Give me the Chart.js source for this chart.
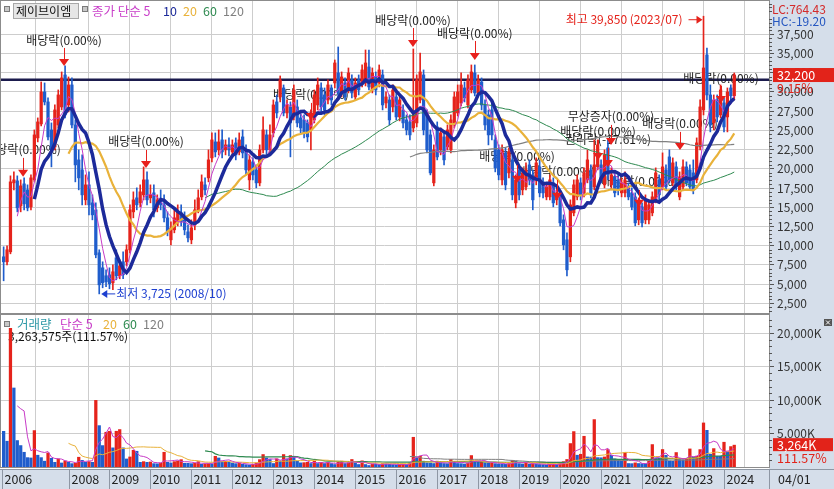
<!DOCTYPE html>
<html>
<head>
<meta charset="utf-8">
<script src="https://cdn.jsdelivr.net/npm/chart.js@4.4.1/dist/chart.umd.min.js"></script>
<style>
html, body { margin: 0; padding: 0; background: #fff; }
#wrap { position: relative; width: 834px; height: 489px; overflow: hidden; }
#priceBox { position: absolute; left: 0; top: 0; width: 834px; height: 314px; }
#volBox { position: absolute; left: 0; top: 314px; width: 834px; height: 175px; }
</style>
</head>
<body>
<div id="wrap">
  <div id="priceBox"><canvas id="priceChart" width="834" height="314"></canvas></div>
  <div id="volBox"><canvas id="volChart" width="834" height="175"></canvas></div>
</div>
<script>
// monthly candles, index 0 = 2006/06 ... 214 = 2024/04
const opens = [
  8550, 7900, 9200, 18170, 18430, 15180, 18040, 17260, 15050, 18560,
  24020, 25840, 30000, 28700, 25060, 22850, 25710, 28050, 32210, 28310,
  30910, 25710, 21160, 19860, 15960, 17910, 15570, 14660, 9070, 7120,
  6080, 6210, 5170, 8420, 6080, 7900, 7900, 9460, 14400, 16220,
  15570, 16610, 18560, 16220, 16870, 14920, 15960, 15310, 13620, 10760,
  12060, 13100, 14270, 13360, 11800, 10760, 12710, 14660, 16350, 17910,
  18820, 21420, 23500, 22460, 23760, 22460, 23110, 22200, 23370, 22200,
  24150, 22200, 18560, 20900, 19860, 18170, 22460, 24410, 22460, 24670,
  28700, 29350, 30520, 27270, 28050, 26750, 28050, 26620, 26360, 25970,
  25060, 26360, 28310, 30520, 29610, 28960, 30520, 31170, 32470, 29870,
  31170, 30260, 31560, 29350, 31560, 31170, 31170, 33250, 30260, 31950,
  31170, 32210, 28570, 28960, 28050, 29350, 26750, 27660, 26360, 26100,
  25320, 25970, 28960, 32210, 27010, 24410, 18170, 25450, 22460, 24150,
  22850, 22460, 25710, 27270, 28570, 30520, 28310, 30260, 32470, 29870,
  31300, 28310, 27010, 27660, 23760, 22460, 18560, 22070, 19470, 21160,
  15570, 19860, 17260, 17650, 20510, 19210, 18560, 20250, 18300, 16350,
  16350, 18170, 15960, 16350, 13360, 10760, 8550, 14270, 16350, 18170,
  16870, 18560, 19860, 17650, 20250, 20510, 17910, 22720, 17910, 18950,
  18560, 16870, 16870, 17650, 16870, 16350, 13360, 15050, 13360, 13360,
  14270, 15960, 18560, 17650, 19860, 21550, 18170, 20250, 16350, 17650,
  20250, 19860, 19470, 18560, 22850, 27660, 34810, 29610, 25970, 28960,
  27010, 28570, 26750, 30520, 29500
];
const highs = [
  9850, 9980, 19080, 19600, 19080, 18560, 18820, 17910, 19210, 25060,
  26620, 31300, 31170, 29220, 25970, 28310, 30260, 32600, 33380, 31950,
  31820, 26360, 22460, 21810, 19210, 19600, 16610, 15570, 9460, 7900,
  6860, 7120, 7510, 9460, 8160, 9200, 10110, 15310, 17000, 17520,
  17910, 20250, 19600, 17910, 17910, 16610, 17260, 16610, 14400, 13100,
  14660, 15310, 15310, 14400, 12710, 13360, 15960, 17260, 19210, 18820,
  22460, 24670, 24670, 25060, 25060, 23760, 24020, 23760, 24020, 24670,
  25060, 23110, 21810, 21420, 20510, 23110, 26750, 25060, 25710, 28960,
  29610, 32080, 30910, 28960, 28700, 30910, 28960, 27400, 27010, 26360,
  27660, 30260, 31820, 31170, 30520, 31560, 30910, 34160, 35850, 32600,
  31820, 33120, 32210, 31820, 32210, 33510, 35460, 35460, 33120, 32600,
  33510, 32860, 30000, 29610, 30910, 30000, 29610, 28310, 27010, 27010,
  35590, 32210, 35070, 32860, 27660, 25060, 23110, 26100, 25320, 24800,
  25710, 27010, 30000, 30910, 32470, 31300, 32210, 33510, 33510, 32210,
  31820, 28960, 27660, 28960, 24410, 23110, 23110, 22720, 22720, 21810,
  19210, 20510, 20120, 20770, 21160, 19860, 21420, 21160, 18820, 18170,
  19210, 18820, 17520, 17000, 14010, 11670, 15960, 18560, 19210, 18820,
  20120, 22460, 20510, 23760, 23760, 21160, 22460, 23760, 20120, 19600,
  19210, 18820, 19600, 18170, 17520, 16870, 16220, 15570, 16610, 15960,
  17000, 20120, 19210, 22070, 20510, 22460, 21420, 20900, 19600, 21160,
  20900, 20510, 21160, 24020, 28960, 39850, 35720, 30910, 29610, 29610,
  30910, 29220, 30520, 30910, 32470
];
const lows = [
  5430, 7510, 8940, 17260, 14400, 14400, 14660, 14530, 14660, 18300,
  23500, 25580, 28310, 23760, 20250, 22460, 25320, 27660, 26620, 27400,
  25320, 18300, 17260, 15310, 15310, 14010, 13360, 8420, 3725, 4520,
  4650, 4390, 4260, 5560, 5690, 5690, 7380, 9070, 13620, 14660,
  15050, 15960, 15310, 15570, 13750, 14400, 14660, 13100, 11280, 10110,
  11670, 12580, 12580, 11410, 10500, 10240, 12060, 14270, 15960, 16610,
  18300, 20900, 21550, 21810, 21420, 21810, 21680, 21550, 21160, 21810,
  21420, 19210, 17260, 18560, 17520, 17780, 22070, 21810, 21810, 24150,
  26620, 28700, 26880, 26620, 21550, 26360, 25450, 24670, 24020, 23500,
  22460, 25970, 27660, 27400, 27010, 28440, 28310, 30520, 29480, 29350,
  28960, 29870, 29220, 28960, 29610, 30650, 30780, 30260, 29870, 29610,
  30650, 27660, 27920, 25710, 27400, 26360, 26230, 25320, 24410, 23760,
  24800, 25450, 28570, 24410, 22070, 19210, 17780, 21160, 21810, 20510,
  22460, 22070, 25320, 26880, 28180, 28700, 27920, 29870, 29480, 29350,
  27660, 25060, 23110, 23760, 19600, 18560, 17910, 17260, 18820, 15960,
  14920, 15960, 16610, 17260, 17910, 14660, 17910, 16350, 16220, 15960,
  15960, 15050, 15310, 12580, 9460, 6080, 7900, 13880, 15960, 15960,
  16350, 18170, 16220, 17260, 19860, 18170, 17520, 18560, 17260, 16350,
  16610, 16350, 16350, 15960, 14660, 12580, 12710, 12450, 12840, 12840,
  13880, 15570, 15960, 17260, 17260, 18170, 17780, 17260, 15960, 17260,
  17780, 17260, 16740, 18170, 22460, 27010, 28960, 24800, 25060, 26100,
  26620, 24800, 24800, 28960, 28960
];
const closes = [
  7900, 9460, 18300, 18560, 14920, 17780, 15440, 14920, 18820, 24410,
  26100, 30000, 28700, 24150, 22460, 27660, 29610, 31820, 27010, 30910,
  25710, 20510, 18820, 16610, 17910, 15310, 14010, 8810, 4910, 5170,
  5300, 5040, 6600, 6080, 7380, 6210, 9460, 14660, 15960, 15310,
  17000, 18560, 15960, 16610, 14660, 15960, 15310, 13620, 11800, 12320,
  13620, 14400, 13100, 12060, 11020, 12320, 14660, 16220, 18300, 17260,
  21160, 23760, 22200, 23500, 22200, 23110, 22460, 23110, 21810, 23760,
  22070, 19860, 21160, 19210, 18170, 22460, 25060, 22460, 24410, 28310,
  27270, 31560, 27270, 28310, 25970, 30260, 25970, 25320, 24670, 24150,
  27270, 29610, 30910, 28050, 27660, 30910, 28960, 33770, 29870, 31950,
  29350, 32470, 29870, 31170, 30260, 32860, 33770, 30650, 32470, 30260,
  32860, 28310, 29350, 26360, 30260, 26750, 28960, 25970, 25060, 24410,
  27010, 31560, 32600, 25060, 22460, 19470, 22460, 21550, 24670, 21160,
  25060, 26360, 29350, 30000, 30910, 29220, 31560, 32600, 29870, 31560,
  28310, 25710, 24410, 24410, 20120, 19210, 22460, 17910, 22200, 16610,
  18560, 16610, 19470, 19860, 18560, 15960, 20770, 16870, 16870, 17650,
  18560, 15570, 16870, 12970, 10110, 6860, 15310, 17910, 18560, 16610,
  19470, 21160, 16610, 20510, 23110, 18560, 21810, 19210, 19210, 16870,
  17260, 18170, 18560, 16350, 15050, 12970, 15570, 12970, 15960, 15310,
  16350, 19470, 16610, 20250, 17650, 18560, 20770, 17650, 18950, 20250,
  18170, 17650, 17260, 23370, 28050, 33120, 29610, 25710, 28960, 26750,
  30260, 25450, 30000, 29500, 32200
];
// volume in thousands of shares
const volumesK = [
  5330, 3850, 20700, 11800, 3950, 3200, 2200, 1400, 1350, 5440,
  1760, 1400, 870, 2100, 1300, 700, 1200, 600, 900, 700,
  500, 550, 1460, 1000, 700, 800, 700, 9950, 6180, 3200,
  5190, 5340, 2860, 5340, 5590, 2860, 1200, 1500, 2500, 2350,
  700, 800, 700, 750, 500, 480, 600, 2200, 700, 600,
  800, 900, 1100, 550, 550, 500, 550, 800, 400, 450,
  500, 450, 1600, 1350, 800, 850, 700, 600, 500, 550,
  400, 350, 300, 400, 600, 1100, 1860, 1350, 1120, 520,
  1220, 900, 1860, 1220, 1710, 1610, 870, 620, 650, 700,
  520, 870, 520, 700, 520, 700, 520, 370, 700, 870,
  520, 620, 1120, 620, 370, 920, 370, 220, 450, 400,
  350, 500, 450, 400, 350, 300, 350, 400, 350, 600,
  4440, 1370, 1610, 870, 620, 600, 520, 870, 620, 520,
  500, 1120, 750, 520, 500, 450, 600, 1710, 870, 700,
  870, 620, 600, 700, 500, 450, 400, 400, 500, 970,
  870, 500, 450, 600, 400, 500, 450, 370, 350, 300,
  400, 450, 350, 600, 800, 1120, 3500, 5290, 1760, 1900,
  4590, 1500, 1480, 7080, 1400, 1380, 1500, 2610, 1760, 1200,
  1120, 900, 2160, 520, 500, 620, 520, 500, 480, 870,
  3350, 1370, 1350, 2610, 1750, 900, 850, 2160, 1120, 1100,
  1200, 2700, 1500, 1610, 2600, 6580, 5480, 1900, 2750, 1600,
  1600, 3700, 2240, 3050, 3264
];

const yearTickIdx = [-0.6, 19, 31, 43, 55, 67, 79, 91, 103, 115, 127, 139, 151, 163, 175, 187, 199, 211];
const yearLabels = ['2006', '2008', '2009', '2010', '2011', '2012', '2013', '2014', '2015', '2016',
                    '2017', '2018', '2019', '2020', '2021', '2022', '2023', '2024'];
const priceTicks = [2500, 5000, 7500, 10000, 12500, 15000, 17500, 20000, 22500, 25000, 27500, 30000, 32500, 35000, 37500];
const volumeTicks = [5000, 10000, 15000, 20000];
const priceMAs = [5, 10, 20, 60, 120];
const volumeMAs = [5, 20, 60, 120];

const eventMarks = [
  { label: '배당락(0.00%)', idx: 5.7, labelPrice: 22460, tipPrice: 18950 },
  { label: '배당락(0.00%)', idx: 17.7, labelPrice: 36760, tipPrice: 33380 },
  { label: '배당락(0.00%)', idx: 41.7, labelPrice: 23500, tipPrice: 20120 },
  { label: '배당락(0.00%)', idx: 90.0, labelPrice: 29610, tipPrice: 26360 },
  { label: '배당락(0.00%)', idx: 119.9, labelPrice: 39360, tipPrice: 35850 },
  { label: '배당락(0.00%)', idx: 138.0, labelPrice: 37670, tipPrice: 34160 },
  { label: '배당락(0.00%)', idx: 150.4, labelPrice: 21550, tipPrice: 18170 },
  { label: '배당락(0.00%)', idx: 162.1, labelPrice: 19600, tipPrice: 15960 },
  { label: '무상증자(0.00%)', idx: 177.9, labelPrice: 26750, tipPrice: 23110 },
  { label: '배당락(0.00%)', idx: 174.1, labelPrice: 24800, tipPrice: 21160 },
  { label: '권리락(-17.61%)', idx: 177.0, labelPrice: 23760, tipPrice: 20250 },
  { label: '배당락(0.00%)', idx: 186.1, labelPrice: 18300, tipPrice: 15050 },
  { label: '배당락(0.00%)', idx: 198.1, labelPrice: 25840, tipPrice: 22460 },
  { label: '배당락(0.00%)', idx: 210.1, labelPrice: 31820, tipPrice: 28570 }
];
const highMark = { idx: 205, price: 39850, label: '최고 39,850 (2023/07)' };
const lowMark = { idx: 28, price: 3725, label: '최저 3,725 (2008/10)' };
const refLinePrice = 31600;
const stockName = '제이브이엠';
const lastChangePct = '9.15%';
const lastVolume = 3263575;
const lastVolumePct = '111.57%';
const lcText = 'LC:764.43';
const hcText = 'HC:-19.20';
const lastDateLabel = '04/01';

const FONT = '"Noto Sans CJK KR", "Noto Sans", sans-serif';
const RED = '#e5231b';
const BLUE = '#1f5dcc';
const AXIS_BG = '#d5deea';
const GRID = '#cdcdcd';
const MA_COLORS = { 5: '#c83cc8', 10: '#1c2a9a', 20: '#e9b23a', 60: '#2e8a50', 120: '#808080' };
const MA_WIDTHS = { 5: 1, 10: 3.5, 20: 2.2, 60: 1, 120: 1.2 };
const X_MIN = -1.064, X_MAX = 224.18;

Chart.defaults.font.family = FONT;
Chart.defaults.font.size = 12;

function sma(src, n) {
  return src.map((_, i) => {
    if (i < n - 1) return null;
    let s = 0;
    for (let k = i - n + 1; k <= i; k++) s += src[k];
    return s / n;
  });
}
const fmt = v => v.toLocaleString('en-US');

const idx = closes.map((_, i) => i);
const candleColors = idx.map(i => closes[i] >= opens[i] ? RED : BLUE);
const volColors = idx.map(i => (i > 0 && volumesK[i] > volumesK[i - 1]) ? RED : BLUE);

function noPad(s) {
  s.paddingTop = 0; s.paddingBottom = 0; s.paddingLeft = 0; s.paddingRight = 0;
}

function xScale(withBand) {
  return {
    type: 'linear', min: X_MIN, max: X_MAX, offset: false,
    afterBuildTicks: s => { s.ticks = yearTickIdx.map(v => ({ value: v })); },
    afterFit: s => { s.height = withBand ? 22 : 1; noPad(s); },
    ticks: { display: false },
    grid: { color: GRID, drawTicks: false },
    border: { display: false }
  };
}

// ---------- price chart ----------
const priceLines = [10, 5, 20, 60, 120].map((n, k) => ({
  type: 'line',
  data: sma(closes, n).map((v, i) => ({ x: i, y: v })),
  borderColor: MA_COLORS[n], borderWidth: MA_WIDTHS[n],
  pointRadius: 0, tension: 0, order: k
}));

const priceDecor = {
  id: 'priceDecor',
  beforeDraw(chart) {
    const { ctx, chartArea: a, width, height } = chart;
    ctx.save();
    ctx.fillStyle = '#fff';
    ctx.fillRect(0, 0, width, height);
    ctx.fillStyle = AXIS_BG;
    ctx.fillRect(a.right, 0, width - a.right, height);
    ctx.restore();
  },
  beforeDatasetsDraw(chart) {
    const { ctx, chartArea: a, scales: { x, y } } = chart;
    ctx.save();
    ctx.beginPath();
    ctx.rect(a.left, a.top, a.right - a.left, a.bottom - a.top);
    ctx.clip();
    const ly = y.getPixelForValue(refLinePrice);
    ctx.strokeStyle = '#1b1b4d';
    ctx.lineWidth = 2.5;
    ctx.beginPath(); ctx.moveTo(a.left, ly); ctx.lineTo(a.right, ly); ctx.stroke();

    ctx.font = '12px ' + FONT;
    ctx.textBaseline = 'middle';
    ctx.textAlign = 'center';
    ctx.fillStyle = '#1e1e1e';
    eventMarks.forEach(m => {
      ctx.fillText(m.label, x.getPixelForValue(m.idx), y.getPixelForValue(m.labelPrice));
    });

    // high / low notes
    const hx = x.getPixelForValue(highMark.idx) - 1;
    const hy = y.getPixelForValue(highMark.price) + 3.5;
    ctx.fillStyle = RED; ctx.strokeStyle = RED; ctx.lineWidth = 1;
    ctx.textAlign = 'right';
    ctx.fillText(highMark.label, hx - 20, hy);
    ctx.beginPath(); ctx.moveTo(hx - 14, hy); ctx.lineTo(hx - 4, hy); ctx.stroke();
    ctx.beginPath(); ctx.moveTo(hx, hy); ctx.lineTo(hx - 6, hy - 4); ctx.lineTo(hx - 6, hy + 4); ctx.closePath(); ctx.fill();

    const lx = x.getPixelForValue(lowMark.idx) + 2;
    const lyy = y.getPixelForValue(lowMark.price);
    ctx.fillStyle = '#1d3fd0'; ctx.strokeStyle = '#1d3fd0';
    ctx.textAlign = 'left';
    ctx.fillText(lowMark.label, lx + 15, lyy);
    ctx.beginPath(); ctx.moveTo(lx + 4, lyy); ctx.lineTo(lx + 14, lyy); ctx.stroke();
    ctx.beginPath(); ctx.moveTo(lx, lyy); ctx.lineTo(lx + 6, lyy - 4); ctx.lineTo(lx + 6, lyy + 4); ctx.closePath(); ctx.fill();
    ctx.restore();
  },
  afterDatasetsDraw(chart) {
    const { ctx, chartArea: a, scales: { x, y } } = chart;
    ctx.save();
    ctx.beginPath();
    ctx.rect(a.left, a.top, a.right - a.left, a.bottom - a.top);
    ctx.clip();
    ctx.strokeStyle = '#e8201c'; ctx.fillStyle = '#e8201c'; ctx.lineWidth = 1;
    eventMarks.forEach(m => {
      const px = x.getPixelForValue(m.idx);
      const ty = y.getPixelForValue(m.labelPrice);
      const tip = y.getPixelForValue(m.tipPrice);
      const lxp = Math.round(px) + 0.5;
      ctx.beginPath(); ctx.moveTo(lxp, ty + 8); ctx.lineTo(lxp, tip - 6); ctx.stroke();
      ctx.beginPath(); ctx.moveTo(px - 5, tip - 7); ctx.lineTo(px + 5, tip - 7); ctx.lineTo(px, tip); ctx.closePath(); ctx.fill();
    });
    ctx.restore();
  },
  afterDraw(chart) {
    const { ctx, chartArea: a, scales: { y } } = chart;
    ctx.save();
    ctx.strokeStyle = '#8c8c8c'; ctx.lineWidth = 1;
    ctx.strokeRect(a.left + 0.5, a.top - 0.5, a.right - a.left, a.bottom - a.top + 1);

    // minor ticks on the price axis
    ctx.strokeStyle = '#555';
    ctx.beginPath();
    for (let v = 1500; v < 41800; v += 500) {
      if (v % 2500 === 0) continue;
      const py = Math.round(y.getPixelForValue(v)) + 0.5;
      ctx.moveTo(a.right, py); ctx.lineTo(a.right + 3, py);
    }
    ctx.stroke();

    // legend
    ctx.font = '12px ' + FONT;
    ctx.textBaseline = 'middle';
    ctx.textAlign = 'left';
    ctx.fillStyle = '#c8c8c8'; ctx.fillRect(5, 7, 4, 4);
    ctx.strokeStyle = '#7a7a7a'; ctx.strokeRect(4.5, 6.5, 5, 5);
    ctx.fillStyle = '#e6e6e6'; ctx.fillRect(13, 3, 65, 15);
    ctx.strokeStyle = '#a8a8a8'; ctx.strokeRect(13.5, 3.5, 65, 15);
    ctx.fillStyle = '#111'; ctx.fillText(stockName, 16, 11);
    ctx.fillStyle = '#c8c8c8'; ctx.fillRect(83, 7, 4, 4);
    ctx.strokeStyle = '#7a7a7a'; ctx.strokeRect(82.5, 6.5, 5, 5);
    ctx.font = '12.5px ' + FONT;
    const legendX = [92, 163, 183, 203, 223];
    priceMAs.forEach((n, k) => {
      ctx.fillStyle = MA_COLORS[n];
      ctx.fillText(k === 0 ? '종가 단순 ' + n : String(n), legendX[k], 11);
    });

    // right side info
    ctx.font = '12px ' + FONT;
    ctx.fillStyle = '#d42a2a'; ctx.fillText(lcText, 772, 9);
    ctx.fillStyle = '#2456c0'; ctx.fillText(hcText, 772, 21);
    ctx.font = '12.5px ' + FONT;
    const last = closes[closes.length - 1];
    const cy = y.getPixelForValue(last);
    ctx.fillStyle = '#e2231a'; ctx.fillRect(773, cy - 7, 61, 14);
    ctx.fillStyle = '#fff'; ctx.fillText(fmt(last), 777, cy + 0.5);
    ctx.fillStyle = '#e2231a'; ctx.fillText(lastChangePct, 777, cy + 13);
    ctx.restore();
  }
};

new Chart(document.getElementById('priceChart'), {
  type: 'line',
  data: {
    datasets: [
      ...priceLines,
      {
        type: 'bar', data: idx.map(i => ({ x: i, y: [opens[i], closes[i]] })),
        backgroundColor: candleColors, barThickness: 2.6, minBarLength: 1, grouped: false, order: 5
      },
      {
        type: 'bar', data: idx.map(i => ({ x: i, y: [lows[i], highs[i]] })),
        backgroundColor: candleColors, barThickness: 1, grouped: false, order: 6
      }
    ]
  },
  options: {
    responsive: false, animation: false, events: [],
    layout: { padding: { top: 1, left: 0, right: 0, bottom: 0 } },
    plugins: { legend: { display: false }, tooltip: { enabled: false } },
    scales: {
      x: xScale(false),
      y: {
        type: 'linear', position: 'right', min: 1240, max: 41830,
        afterBuildTicks: s => { s.ticks = priceTicks.map(v => ({ value: v })); },
        afterFit: s => { s.width = 65; noPad(s); },
        ticks: { callback: v => fmt(v), color: '#333', padding: 3, font: { size: 12 } },
        grid: { color: GRID, tickColor: '#555', tickLength: 5 },
        border: { display: true, color: '#666' }
      }
    }
  },
  plugins: [priceDecor]
});

// ---------- volume chart ----------
const volLines = volumeMAs.map((n, k) => ({
  type: 'line',
  data: sma(volumesK, n).map((v, i) => ({ x: i, y: v })),
  borderColor: MA_COLORS[n], borderWidth: n === 60 ? 1.2 : 1,
  pointRadius: 0, tension: 0, order: k
}));

const volDecor = {
  id: 'volDecor',
  beforeDraw(chart) {
    const { ctx, chartArea: a, width, height } = chart;
    ctx.save();
    ctx.fillStyle = '#fff';
    ctx.fillRect(0, 0, width, height);
    ctx.fillStyle = AXIS_BG;
    ctx.fillRect(a.right, 0, width - a.right, height);
    ctx.fillRect(0, a.bottom + 2, width, height - a.bottom - 2);
    ctx.restore();
  },
  beforeDatasetsDraw(chart) {
    const { ctx } = chart;
    ctx.save();
    ctx.textBaseline = 'middle';
    ctx.textAlign = 'left';
    ctx.fillStyle = '#c8c8c8'; ctx.fillRect(5, 8, 4, 4);
    ctx.strokeStyle = '#7a7a7a'; ctx.strokeRect(4.5, 7.5, 5, 5);
    ctx.font = '12.5px ' + FONT;
    ctx.fillStyle = '#2f9aa8'; ctx.fillText('거래량', 17, 10);
    const legendX = [60, 103, 123, 143];
    volumeMAs.forEach((n, k) => {
      ctx.fillStyle = MA_COLORS[n];
      ctx.fillText(k === 0 ? '단순 ' + n : String(n), legendX[k], 10);
    });
    ctx.font = '12px ' + FONT;
    ctx.fillStyle = '#111';
    ctx.fillText(fmt(lastVolume) + '주(' + lastVolumePct + ')', 8, 22);
    ctx.restore();
  },
  afterDraw(chart) {
    const { ctx, chartArea: a, scales: { x, y }, width, height } = chart;
    ctx.save();
    ctx.strokeStyle = '#8c8c8c'; ctx.lineWidth = 1;
    ctx.strokeRect(a.left + 0.5, a.top - 0.5, a.right - a.left, a.bottom - a.top + 1);

    ctx.strokeStyle = '#555';
    ctx.beginPath();
    for (let v = 1000; v < 22700; v += 1000) {
      if (v % 5000 === 0) continue;
      const py = Math.round(y.getPixelForValue(v)) + 0.5;
      ctx.moveTo(a.right, py); ctx.lineTo(a.right + 3, py);
    }
    ctx.stroke();

    // date band
    const bTop = a.bottom + 2;
    ctx.strokeStyle = '#8e97a4';
    ctx.beginPath(); ctx.moveTo(0, bTop + 0.5); ctx.lineTo(width, bTop + 0.5); ctx.stroke();
    ctx.font = '12.5px ' + FONT;
    ctx.textBaseline = 'middle';
    ctx.textAlign = 'left';
    yearTickIdx.forEach((v, k) => {
      const px = Math.round(x.getPixelForValue(v)) + 0.5;
      ctx.strokeStyle = '#8e97a4';
      ctx.beginPath(); ctx.moveTo(px, bTop); ctx.lineTo(px, height); ctx.stroke();
      ctx.fillStyle = '#222';
      ctx.fillText(yearLabels[k], px + 2, bTop + 10);
    });
    ctx.beginPath(); ctx.moveTo(a.right + 0.5, bTop); ctx.lineTo(a.right + 0.5, height); ctx.stroke();
    ctx.fillText(lastDateLabel, 778, bTop + 10);

    // last volume box
    const lastV = volumesK[volumesK.length - 1];
    const vy = y.getPixelForValue(lastV);
    ctx.fillStyle = '#e2231a'; ctx.fillRect(773, vy - 7, 60, 13);
    ctx.font = '12.5px ' + FONT;
    ctx.fillStyle = '#fff'; ctx.fillText(fmt(lastV) + 'K', 777, vy);
    ctx.fillStyle = '#e2231a'; ctx.fillText(lastVolumePct, 777, vy + 13);

    // close icon
    ctx.fillStyle = '#555'; ctx.fillRect(824, 5, 8, 7);
    ctx.strokeStyle = '#fff';
    ctx.beginPath(); ctx.moveTo(826, 6.5); ctx.lineTo(830, 10.5); ctx.moveTo(830, 6.5); ctx.lineTo(826, 10.5); ctx.stroke();
    ctx.restore();
  }
};

new Chart(document.getElementById('volChart'), {
  type: 'line',
  data: {
    datasets: [
      ...volLines,
      {
        type: 'bar', data: idx.map(i => ({ x: i, y: volumesK[i] })),
        backgroundColor: volColors, barThickness: 2.6, grouped: false, order: 5
      }
    ]
  },
  options: {
    responsive: false, animation: false, events: [],
    layout: { padding: { top: 1, left: 0, right: 0, bottom: 0 } },
    plugins: { legend: { display: false }, tooltip: { enabled: false } },
    scales: {
      x: xScale(true),
      y: {
        type: 'linear', position: 'right', min: 0, max: 22700,
        afterBuildTicks: s => { s.ticks = volumeTicks.map(v => ({ value: v })); },
        afterFit: s => { s.width = 65; noPad(s); },
        ticks: { callback: v => fmt(v) + 'K', color: '#333', padding: 3, font: { size: 12 } },
        grid: { color: GRID, tickColor: '#555', tickLength: 5 },
        border: { display: true, color: '#666' }
      }
    }
  },
  plugins: [volDecor]
});
</script>
</body>
</html>
